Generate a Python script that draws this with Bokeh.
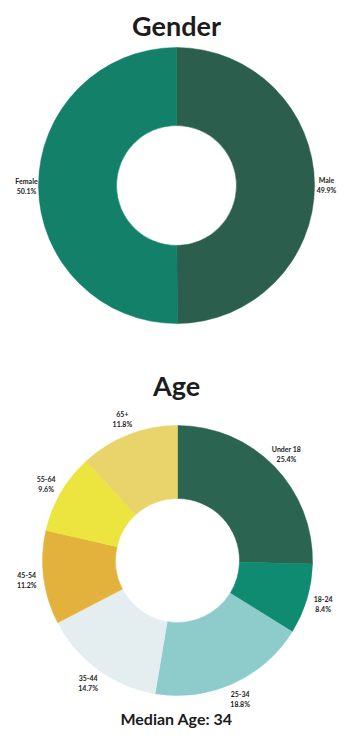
import math
from bokeh.plotting import figure
from bokeh.models import ColumnDataSource
from bokeh.core.properties import value
from bokeh.embed import file_html
from bokeh.resources import INLINE

# ---- data ----
gender_labels = ["Male", "Female"]
gender_values = [49.9, 50.1]
gender_colors = ["#2b5e4c", "#13806a"]

age_labels = ["Under 18", "18-24", "25-34", "35-44", "45-54", "55-64", "65+"]
age_values = [25.4, 8.4, 18.8, 14.7, 11.2, 9.6, 11.8]
age_colors = ["#2b6450", "#0f8b71", "#8ecbcb", "#e4eef1", "#e2b23c", "#ece43f", "#e9d46c"]

median_age = 34

W, H = 352, 742
p = figure(width=W, height=H, x_range=(0, W), y_range=(0, H),
           output_backend="svg", toolbar_location=None, min_border=0)
p.axis.visible = False
p.grid.visible = False
p.outline_line_color = None
p.background_fill_color = "white"
p.border_fill_color = "white"

FONT = value("Lato")
DARK = "#1c1c1c"


def donut(labels, values, colors, cx, cy, r_in, r_out, r_lab):
    total = sum(values)
    starts, ends, mids = [], [], []
    acc = 0.0
    for v in values:
        a0 = math.pi / 2 - 2 * math.pi * acc / total
        acc += v
        a1 = math.pi / 2 - 2 * math.pi * acc / total
        starts.append(a0)
        ends.append(a1)
        mids.append((a0 + a1) / 2)
    src = ColumnDataSource(dict(start=starts, end=ends, color=colors,
                                x=[cx] * len(values), y=[cy] * len(values)))
    p.annular_wedge(x="x", y="y", inner_radius=r_in, outer_radius=r_out,
                    start_angle="start", end_angle="end", direction="clock",
                    fill_color="color", line_color="color", line_width=0.5,
                    source=src)
    lx = [cx + r_lab * math.cos(m) for m in mids]
    ly = [cy + r_lab * math.sin(m) for m in mids]
    pct = [f"{v:.1f}%" for v in values]
    lsrc = ColumnDataSource(dict(x=lx, y=ly, name=labels, pct=pct))
    p.text(x="x", y="y", text="name", source=lsrc, text_font=FONT,
           text_font_style="bold", text_font_size="7px", text_color=DARK,
           text_align="center", text_baseline="middle", y_offset=-5)
    p.text(x="x", y="y", text="pct", source=lsrc, text_font=FONT,
           text_font_style="bold", text_font_size="7px", text_color=DARK,
           text_align="center", text_baseline="middle", y_offset=5)


# Gender donut (pixel coords converted: y_data = H - y_px)
donut(gender_labels, gender_values, gender_colors, 176, H - 185, 60, 138, 150)
# Age donut
donut(age_labels, age_values, age_colors, 177, H - 560, 62, 135, 152)

titles = ColumnDataSource(dict(x=[176, 176], y=[H - 25, H - 385],
                               t=["Gender", "Age"]))
p.text(x="x", y="y", text="t", source=titles, text_font=FONT,
       text_font_style="bold", text_font_size="27px", text_color=DARK,
       text_align="center", text_baseline="middle")

p.text(x=[176], y=[H - 718], text=[f"Median Age: {median_age}"], text_font=FONT,
       text_font_style="bold", text_font_size="16px", text_color=DARK,
       text_align="center", text_baseline="middle")

open("out.html", "w").write(file_html(p, INLINE))
